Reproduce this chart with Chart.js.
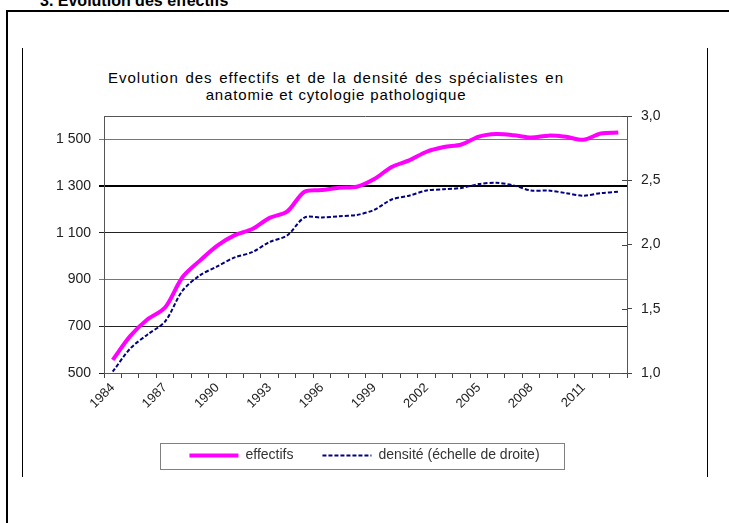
<!DOCTYPE html>
<html><head><meta charset="utf-8">
<script src="https://cdn.jsdelivr.net/npm/chart.js@4"></script>
<style>
html,body{margin:0;padding:0;background:#fff;width:729px;height:523px;overflow:hidden;position:relative;font-family:"Liberation Sans",Arial,sans-serif;}
#hdr{position:absolute;left:40px;top:-7px;font-size:16px;font-weight:bold;line-height:16px;white-space:nowrap;color:#000;}
#frame{position:absolute;left:6px;top:10px;width:800px;height:600px;border-top:2px solid #000;border-left:2px solid #000;}
.vl{position:absolute;top:48px;height:429px;width:1px;background:#000;}
#title{position:absolute;left:0;width:672px;top:69px;text-align:center;font-size:15px;line-height:17px;color:#000;}
#title .l1{letter-spacing:1px;word-spacing:1.5px;}
#title .l2{letter-spacing:0.85px;}
#wrap{position:absolute;left:0;top:0;width:729px;height:523px;}
</style></head>
<body>
<div id="hdr">3. Evolution des effectifs</div>
<div id="frame"></div>
<div class="vl" style="left:22px"></div>
<div class="vl" style="left:707px"></div>
<div id="title"><span class="l1">Evolution des effectifs et de la densité des spécialistes en</span><br><span class="l2">anatomie et cytologie pathologique</span></div>
<div id="wrap"><canvas id="c"></canvas></div>
<script>
const years = ['1984','1985','1986','1987','1988','1989','1990','1991','1992','1993','1994','1995','1996','1997','1998','1999','2000','2001','2002','2003','2004','2005','2006','2007','2008','2009','2010','2011','2012','2013'];
const shownYears = ['1984','1987','1990','1993','1996','1999','2002','2005','2008','2011'];
const effectifs = [556, 658, 730, 780, 910, 981, 1045, 1090, 1116, 1164, 1191, 1276, 1283, 1293, 1297, 1330, 1382, 1410, 1447, 1467, 1478, 1512, 1523, 1518, 1508, 1516, 1511, 1498, 1525, 1529];
const densite = [1.01, 1.19, 1.30, 1.40, 1.64, 1.76, 1.83, 1.90, 1.94, 2.02, 2.07, 2.21, 2.21, 2.22, 2.23, 2.27, 2.35, 2.38, 2.42, 2.43, 2.44, 2.47, 2.48, 2.46, 2.42, 2.42, 2.40, 2.38, 2.40, 2.41];
const leftTicks = [500, 700, 900, 1100, 1300, 1500];
const rightTicks = [1.0, 1.5, 2.0, 2.5, 3.0];
const seriesNames = ['effectifs', 'densité (échelle de droite)'];

const fmtLeft = v => v >= 1000 ? Math.floor(v/1000) + ' ' + String(v % 1000).padStart(3,'0') : String(v);
const fmtRight = v => v.toFixed(1).replace('.', ',');

const decor = {
  id: 'decor',
  beforeDatasetsDraw(chart) {
    const {ctx, chartArea: a} = chart;
    ctx.save();
    ctx.strokeStyle = '#555'; ctx.lineWidth = 1;
    ctx.beginPath(); ctx.moveTo(a.left, a.top + 0.5); ctx.lineTo(a.right, a.top + 0.5); ctx.stroke();
    const y1 = chart.scales.y1;
    ctx.strokeStyle = '#444';
    y1.ticks.forEach(t => {
      const py = Math.round(y1.getPixelForValue(t.value)) + 0.5;
      ctx.beginPath(); ctx.moveTo(a.right - 5, py); ctx.lineTo(a.right, py); ctx.stroke();
    });
    ctx.restore();
  },
  afterDraw(chart) {
    const lg = chart.legend;
    if (!lg || !lg.legendHitBoxes || !lg.legendHitBoxes.length) return;
    const hb = lg.legendHitBoxes;
    const first = hb[0], last = hb[hb.length - 1];
    const cy = first.top + first.height / 2;
    const ctx = chart.ctx;
    ctx.save();
    ctx.strokeStyle = '#808080'; ctx.lineWidth = 1;
    const x0 = Math.round(first.left - 29) + 0.5, x1 = Math.round(last.left + last.width + 24) + 0.5;
    const y0 = Math.round(cy - 13) + 0.5, y1 = Math.round(cy + 13) + 0.5;
    ctx.strokeRect(x0, y0, x1 - x0, y1 - y0);
    ctx.restore();
  }
};

new Chart(document.getElementById('c'), {
  type: 'line',
  data: {
    labels: years,
    datasets: [
      { label: seriesNames[0], data: effectifs, yAxisID: 'y', borderColor: '#FF00FF', backgroundColor: '#FF00FF', borderWidth: 4, pointRadius: 0, tension: 0.3, fill: false },
      { label: seriesNames[1], data: densite, yAxisID: 'y1', borderColor: '#000080', backgroundColor: '#000080', borderWidth: 2, borderDash: [4, 2], pointRadius: 0, tension: 0.3, fill: false }
    ]
  },
  options: {
    responsive: true, maintainAspectRatio: false, animation: false,
    layout: { padding: { left: 0, right: 0, top: 116, bottom: 50.5 } },
    plugins: {
      title: { display: false },
      tooltip: { enabled: false },
      legend: {
        display: true, position: 'bottom',
        labels: {
          usePointStyle: true, pointStyle: 'line', pointStyleWidth: 49, boxWidth: 49, padding: 29, color: '#333',
          font: { family: '"Liberation Sans", Arial, sans-serif', size: 14 },
          generateLabels(chart) {
            const items = Chart.defaults.plugins.legend.labels.generateLabels(chart);
            items.forEach(it => {
              const ds = chart.data.datasets[it.datasetIndex];
              it.lineDash = ds.borderDash || [];
              it.lineWidth = ds.borderWidth;
              it.strokeStyle = ds.borderColor;
              it.pointStyle = 'line';
            });
            return items;
          }
        }
      }
    },
    scales: {
      x: {
        type: 'category', offset: true,
        grid: { display: true, drawOnChartArea: false, drawTicks: true, tickLength: 5, color: '#444', offset: true },
        border: { display: true, color: '#555' },
        ticks: { autoSkip: false, maxRotation: 45, minRotation: 45, padding: 2, color: '#222', font: { family: '"Liberation Sans", Arial, sans-serif', size: 13 },
          callback: function(v, i) { const l = years[i]; return shownYears.includes(l) ? l : ''; } },
        afterFit(s) { s.height = 46.5; }
      },
      y: {
        type: 'linear', position: 'left', min: 500, max: 1600,
        afterBuildTicks(s) { s.ticks = leftTicks.map(v => ({ value: v })); },
        grid: { drawOnChartArea: true, tickLength: 5,
          color: c => c.tick && c.tick.value === 1300 ? '#000' : (c.tick && (c.tick.value === 1500 || c.tick.value === 900) ? '#777' : '#222'),
          lineWidth: c => c.tick && c.tick.value === 1300 ? 2 : 1 },
        border: { display: true, color: '#555' },
        ticks: { padding: 8, color: '#222', font: { family: '"Liberation Sans", Arial, sans-serif', size: 14 }, callback: v => fmtLeft(v) },
        afterFit(s) { s.width = 104; }
      },
      y1: {
        type: 'linear', position: 'right', min: 1, max: 3,
        afterBuildTicks(s) { s.ticks = rightTicks.map(v => ({ value: v })); },
        grid: { drawOnChartArea: false, tickLength: 5, color: '#444' },
        border: { display: true, color: '#555' },
        ticks: { padding: 9, color: '#222', font: { family: '"Liberation Sans", Arial, sans-serif', size: 14 }, callback: v => fmtRight(v) },
        afterFit(s) { s.width = 102; }
      }
    }
  },
  plugins: [decor]
});
</script>
</body></html>
